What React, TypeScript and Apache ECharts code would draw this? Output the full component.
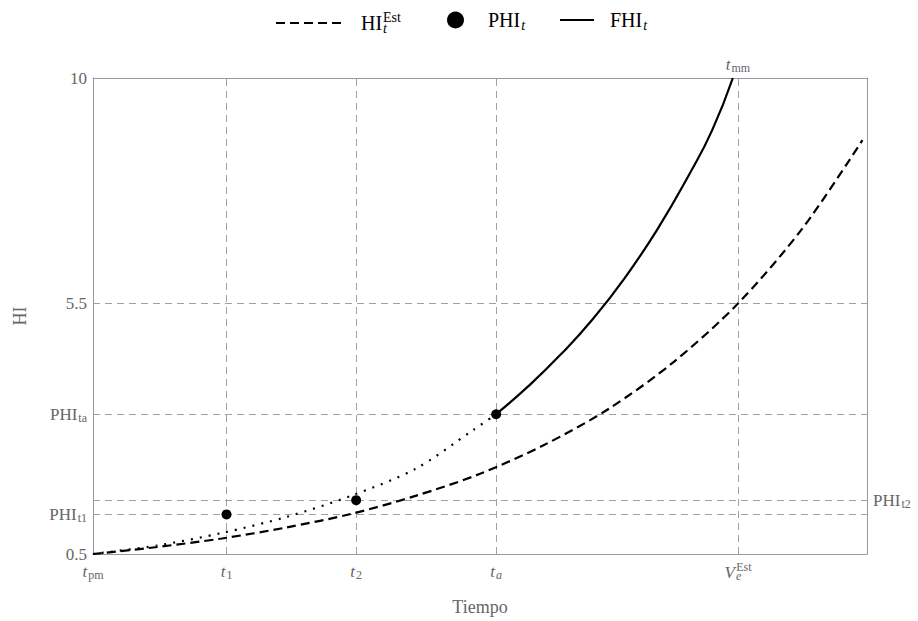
import React, { useEffect, useRef } from "react";
import * as echarts from "echarts";

// ---- data ----
const tMin = 0;
const tMax = 12;
const hiMin = 0.5;
const hiMax = 10;

// special instants: t1, t2, ta, Ve^Est (= tmm)
const tPoints = [2.07, 4.08, 6.25];
const veEst = 10;
const tmm = 10;

// PHI values measured at t1, t2, ta
const phiValues = [1.29, 1.575, 3.29];
const hiEstAtVe = 5.5;

// estimated HI curve (dashed)
const estX = [0, 1, 2, 3, 4, 5, 6, 7, 8, 9, 10, 11, 11.93];
const estY = [0.5, 0.64, 0.81, 1.03, 1.3, 1.66, 2.1, 2.68, 3.4, 4.33, 5.5, 7.0, 8.76];

// backward extrapolation through PHI points (dotted)
const dotX = [0, 1, 2, 3, 4, 5, 5.9, 6.25];
const dotY = [0.5, 0.67, 0.92, 1.24, 1.66, 2.2, 2.98, 3.29];

// forecast FHI (solid)
const fhiX = [6.25, 6.75, 7.25, 7.75, 8.25, 8.75, 9.25, 9.6, 9.92];
const fhiY = [3.29, 3.85, 4.48, 5.19, 6.02, 6.98, 8.09, 8.96, 10];

// tick labels
const xTickValues = [tMin, tPoints[0], tPoints[1], tPoints[2], veEst];
const xTickLabels = [
  "{it|t}{sub|pm}",
  "{it|t}{sub|1}",
  "{it|t}{sub|2}",
  "{it|t}{subi|a}",
  "{it|V}{subi|e}{sup|Est}",
];
const topTickValues = [tmm];
const topTickLabels = ["{it|t}{sub|mm}"];
const yTickValues = [hiMin, phiValues[0], phiValues[2], hiEstAtVe, hiMax];
const yTickLabels = ["0.5", "PHI{sub|t1}", "PHI{sub|ta}", "5.5", "10"];
const rightTickValues = [phiValues[1]];
const rightTickLabels = ["PHI{sub|t2}"];

const legendNames = ["HIEst", "PHI", "FHI"];
const legendLabels: Record<string, string> = {
  HIEst: "{b|HI}{subi|t}{sup|Est}",
  PHI: "{b|PHI}{subi|t}",
  FHI: "{b|FHI}{subi|t}",
};

// ---- styles ----
const FONT = "'Liberation Serif', 'Times New Roman', serif";
const TXT = "#666";
const FRAME = "#9a9a9a";
const GRIDC = "#a0a0a0";

const tickRich = {
  it: { fontStyle: "italic", fontSize: 17, fontFamily: FONT, color: TXT },
  sub: { fontSize: 12, fontFamily: FONT, color: TXT, padding: [8, 0, 0, 1] },
  subi: { fontSize: 12, fontStyle: "italic", fontFamily: FONT, color: TXT, padding: [8, 0, 0, 1] },
  sup: { fontSize: 12, fontFamily: FONT, color: TXT, padding: [0, 0, 10, -5] },
};

const legendRich = {
  b: { fontSize: 20, fontFamily: FONT, color: "#000" },
  subi: { fontSize: 14, fontStyle: "italic", fontFamily: FONT, color: "#000", padding: [10, 0, 0, 1] },
  sup: { fontSize: 14, fontFamily: FONT, color: "#000", padding: [0, 0, 12, -4] },
};

const lookup = (vals: number[], labels: string[]) => (v: number) => {
  for (let i = 0; i < vals.length; i++) if (Math.abs(vals[i] - v) < 1e-6) return labels[i];
  return "";
};

const axisCommon = (customValues: number[], labels: string[], margin: number) => ({
  axisLine: { show: true, onZero: false, lineStyle: { color: FRAME, width: 1 } },
  axisTick: { show: true, inside: true, length: 5, customValues, lineStyle: { color: FRAME } },
  axisLabel: {
    show: labels.length > 0,
    customValues,
    formatter: lookup(customValues, labels),
    margin,
    fontFamily: FONT,
    fontSize: 17,
    color: TXT,
    rich: tickRich,
    hideOverlap: false,
  },
  splitLine: { show: false },
});

const pairs = (xs: number[], ys: number[]) => xs.map((x, i) => [x, ys[i]]);

const legendBase = {
  top: 10,
  padding: 0,
  selectedMode: false,
  formatter: (n: string) => legendLabels[n],
};

const option: any = {
  animation: false,
  backgroundColor: "#fff",
  grid: { left: 93, right: 51, top: 78, bottom: 66, containLabel: false },
  legend: [
    {
      ...legendBase,
      data: [legendNames[0]],
      left: 275,
      itemWidth: 68,
      itemHeight: 14,
      itemStyle: { opacity: 0 },
      textStyle: { fontFamily: FONT, fontSize: 20, color: "#000", padding: [0, 0, 0, 12], rich: legendRich },
    },
    {
      ...legendBase,
      data: [{ name: legendNames[1], icon: "circle" }],
      left: 447,
      itemWidth: 17,
      itemHeight: 17,
      textStyle: { fontFamily: FONT, fontSize: 20, color: "#000", padding: [0, 0, 0, 19], rich: legendRich },
    },
    {
      ...legendBase,
      data: [legendNames[2]],
      left: 559,
      itemWidth: 34,
      itemHeight: 14,
      itemStyle: { opacity: 0 },
      textStyle: { fontFamily: FONT, fontSize: 20, color: "#000", padding: [0, 0, 0, 11], rich: legendRich },
    },
  ],
  xAxis: [
    {
      type: "value",
      position: "bottom",
      min: tMin,
      max: tMax,
      name: "Tiempo",
      nameLocation: "middle",
      nameGap: 44,
      nameTextStyle: { fontFamily: FONT, fontSize: 18, color: TXT },
      ...axisCommon(xTickValues, xTickLabels, 7),
    },
    {
      type: "value",
      position: "top",
      min: tMin,
      max: tMax,
      ...axisCommon(topTickValues, topTickLabels, 4),
    },
  ],
  yAxis: [
    {
      type: "value",
      position: "left",
      min: hiMin,
      max: hiMax,
      name: "HI",
      nameLocation: "middle",
      nameGap: 64,
      nameRotate: 90,
      nameTextStyle: { fontFamily: FONT, fontSize: 18, color: TXT },
      ...axisCommon(yTickValues, yTickLabels, 6),
    },
    {
      type: "value",
      position: "right",
      min: hiMin,
      max: hiMax,
      ...axisCommon(rightTickValues, rightTickLabels, 6),
    },
  ],
  series: [
    {
      name: "HIEst",
      type: "line",
      xAxisIndex: 0,
      yAxisIndex: 0,
      data: pairs(estX, estY),
      smooth: 0.3,
      showSymbol: false,
      symbol: "none",
      z: 3,
      color: "#000",
      lineStyle: { color: "#000", width: 2.2, type: [9, 5] },
      markLine: {
        silent: true,
        z: 1,
        symbol: ["none", "none"],
        label: { show: false },
        emphasis: { disabled: true },
        lineStyle: { color: GRIDC, width: 1, type: [7, 5] },
        data: [
          ...tPoints.map((v) => ({ xAxis: v })),
          { xAxis: veEst },
          ...phiValues.map((v) => ({ yAxis: v })),
          { yAxis: hiEstAtVe },
        ],
      },
    },
    {
      name: "ext",
      type: "line",
      xAxisIndex: 0,
      yAxisIndex: 0,
      data: pairs(dotX, dotY),
      smooth: 0.3,
      showSymbol: false,
      symbol: "none",
      z: 3,
      lineStyle: { color: "#000", width: 2.2, type: [2, 7] },
    },
    {
      name: "FHI",
      type: "line",
      xAxisIndex: 0,
      yAxisIndex: 0,
      data: pairs(fhiX, fhiY),
      smooth: 0.5,
      showSymbol: false,
      symbol: "none",
      z: 3,
      color: "#000",
      lineStyle: { color: "#000", width: 2.2, type: "solid" },
    },
    {
      name: "PHI",
      type: "scatter",
      xAxisIndex: 0,
      yAxisIndex: 0,
      data: pairs(tPoints, phiValues),
      symbol: "circle",
      symbolSize: 10,
      z: 4,
      itemStyle: { color: "#000", opacity: 1 },
    },
  ],
};

export default function App() {
  const ref = useRef<HTMLDivElement>(null);
  useEffect(() => {
    document.body.style.margin = "0";
    const chart = echarts.init(ref.current!, null, { renderer: "svg" });
    chart.setOption(option);
    return () => chart.dispose();
  }, []);
  return (
    <div
      ref={ref}
      style={{ width: 918, height: 621, position: "absolute", left: 0, top: 0, background: "#fff" }}
    />
  );
}
